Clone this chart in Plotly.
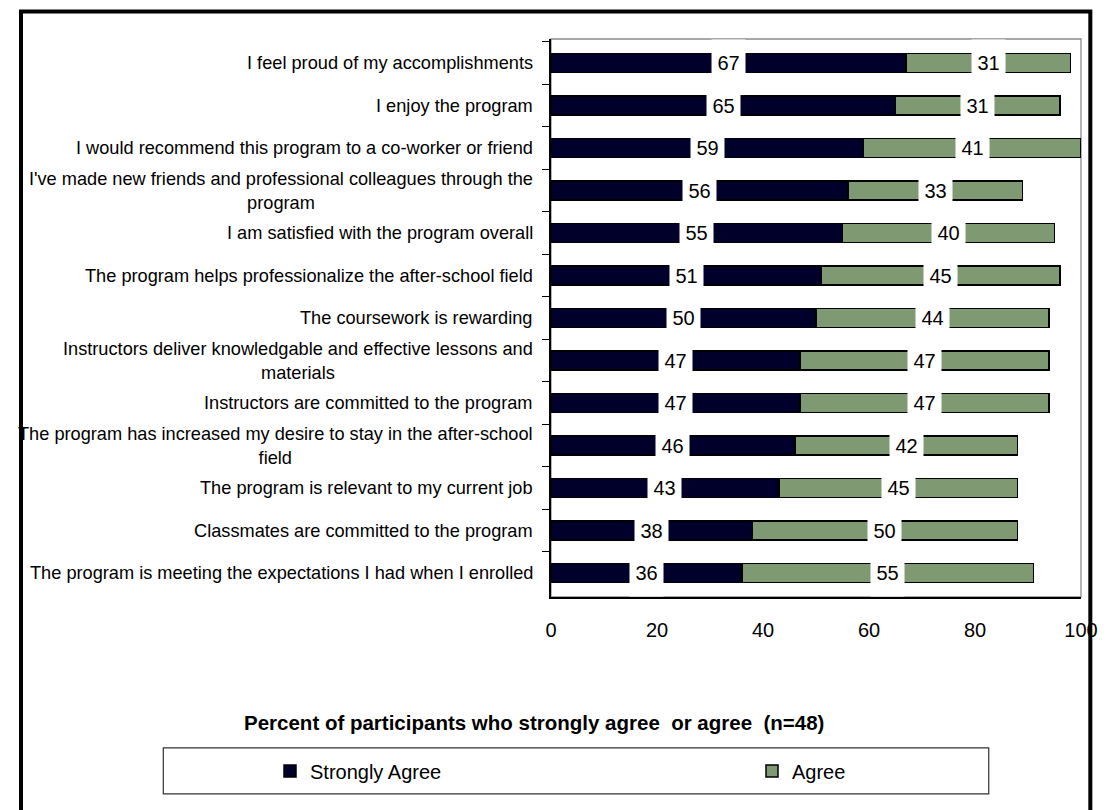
import plotly.graph_objects as go

# Survey statements, listed top to bottom
statements = [
    "I feel proud of my accomplishments",
    "I enjoy the program",
    "I would recommend this program to a co-worker or friend",
    "I've made new friends and professional colleagues through the<br>program",
    "I am satisfied with the program overall",
    "The program helps professionalize the after-school field",
    "The coursework is rewarding",
    "Instructors deliver knowledgable and effective lessons and<br>materials",
    "Instructors are committed to the program",
    "The program has increased my desire to stay in the after-school<br>field",
    "The program is relevant to my current job",
    "Classmates are committed to the program",
    "The program is meeting the expectations I had when I enrolled",
]
strongly_agree = [67, 65, 59, 56, 55, 51, 50, 47, 47, 46, 43, 38, 36]
agree = [31, 31, 41, 33, 40, 45, 44, 47, 47, 42, 45, 50, 55]
x_ticks = [0, 20, 40, 60, 80, 100]

FONT = "Liberation Sans, Arial, sans-serif"
NAVY = "#00002B"
GREEN = "#7F9A72"

W, H = 1110, 810
PL, PR, PT, PB = 551, 1091, 38.5, 597   # plot area in pixels


def px_x(v):
    return (v - PL) / (PR - PL)


def px_y(v):
    return (PB - v) / (PB - PT)


fig = go.Figure()
fig.add_bar(
    y=statements, x=strongly_agree, orientation="h", name="Strongly Agree",
    marker=dict(color=NAVY, line=dict(color="black", width=1.5)),
    legend="legend",
)
fig.add_bar(
    y=statements, x=agree, orientation="h", name="Agree",
    marker=dict(color=GREEN, line=dict(color="black", width=1.5)),
    legend="legend2",
)

# category labels: right-aligned block, wrapped lines centred
for s in statements:
    fig.add_annotation(
        xref="paper", x=px_x(535), y=s, text=s, showarrow=False,
        xanchor="right", yanchor="middle", align="center",
        font=dict(family=FONT, size=18.2, color="black"),
    )

# value labels in white boxes, centred on each segment
for s, a, b in zip(statements, strongly_agree, agree):
    for xc, val in ((a / 2, a), (a + b / 2, b)):
        fig.add_annotation(
            x=xc, y=s, text=str(val), showarrow=False,
            font=dict(family=FONT, size=20, color="black"),
            bgcolor="white", width=33, height=46, borderpad=0,
        )

# axis title below the plot
fig.add_annotation(
    xref="paper", yref="paper", x=px_x(534), y=px_y(723),
    text="<b>Percent of participants who strongly agree  or agree  (n=48)</b>",
    showarrow=False, font=dict(family=FONT, size=20.5, color="black"),
    xanchor="center", yanchor="middle",
)

shapes = [
    # plot area frame
    dict(type="rect", xref="paper", yref="paper", x0=0, x1=1, y0=0, y1=1,
         line=dict(color="#8C8C8C", width=1.3), layer="below"),
    # legend frame
    dict(type="rect", xref="paper", yref="paper",
         x0=px_x(156), x1=px_x(997), y0=px_y(794), y1=px_y(748),
         line=dict(color="#333333", width=1.2), layer="above"),
    # outer chart frame
    dict(type="rect", xref="paper", yref="paper",
         x0=px_x(11), x1=px_x(1100.5), y0=px_y(840), y1=px_y(11),
         line=dict(color="black", width=4), layer="above"),
]

legend_common = dict(
    orientation="h", xref="container", yref="container",
    yanchor="middle", xanchor="left", bgcolor="rgba(0,0,0,0)",
    borderwidth=0, font=dict(family=FONT, size=20, color="black"),
)

fig.update_layout(
    width=W, height=H,
    margin=dict(l=PL, r=W - PR, t=PT, b=H - PB, pad=0),
    paper_bgcolor="white", plot_bgcolor="white",
    barmode="stack", bargap=0.545,
    showlegend=True,
    legend=dict(x=270 / W, y=1 - 771 / H, **legend_common),
    legend2=dict(x=752 / W, y=1 - 771 / H, **legend_common),
    shapes=shapes,
    font=dict(family=FONT, color="black"),
    xaxis=dict(
        range=[0, 100], tickvals=x_ticks, ticktext=[str(t) for t in x_ticks],
        showgrid=False, zeroline=False, showline=True, linecolor="black",
        linewidth=1.5, ticks="", tickfont=dict(family=FONT, size=20, color="black"),
        ticklabelstandoff=14, fixedrange=True,
    ),
    yaxis=dict(
        autorange="reversed", showgrid=False, zeroline=False, showline=True,
        linecolor="black", linewidth=1.5, ticks="outside", ticklen=7,
        tickcolor="black", tickwidth=1.2, tickson="boundaries",
        showticklabels=False, fixedrange=True,
    ),
)

fig.write_html("out.html")
